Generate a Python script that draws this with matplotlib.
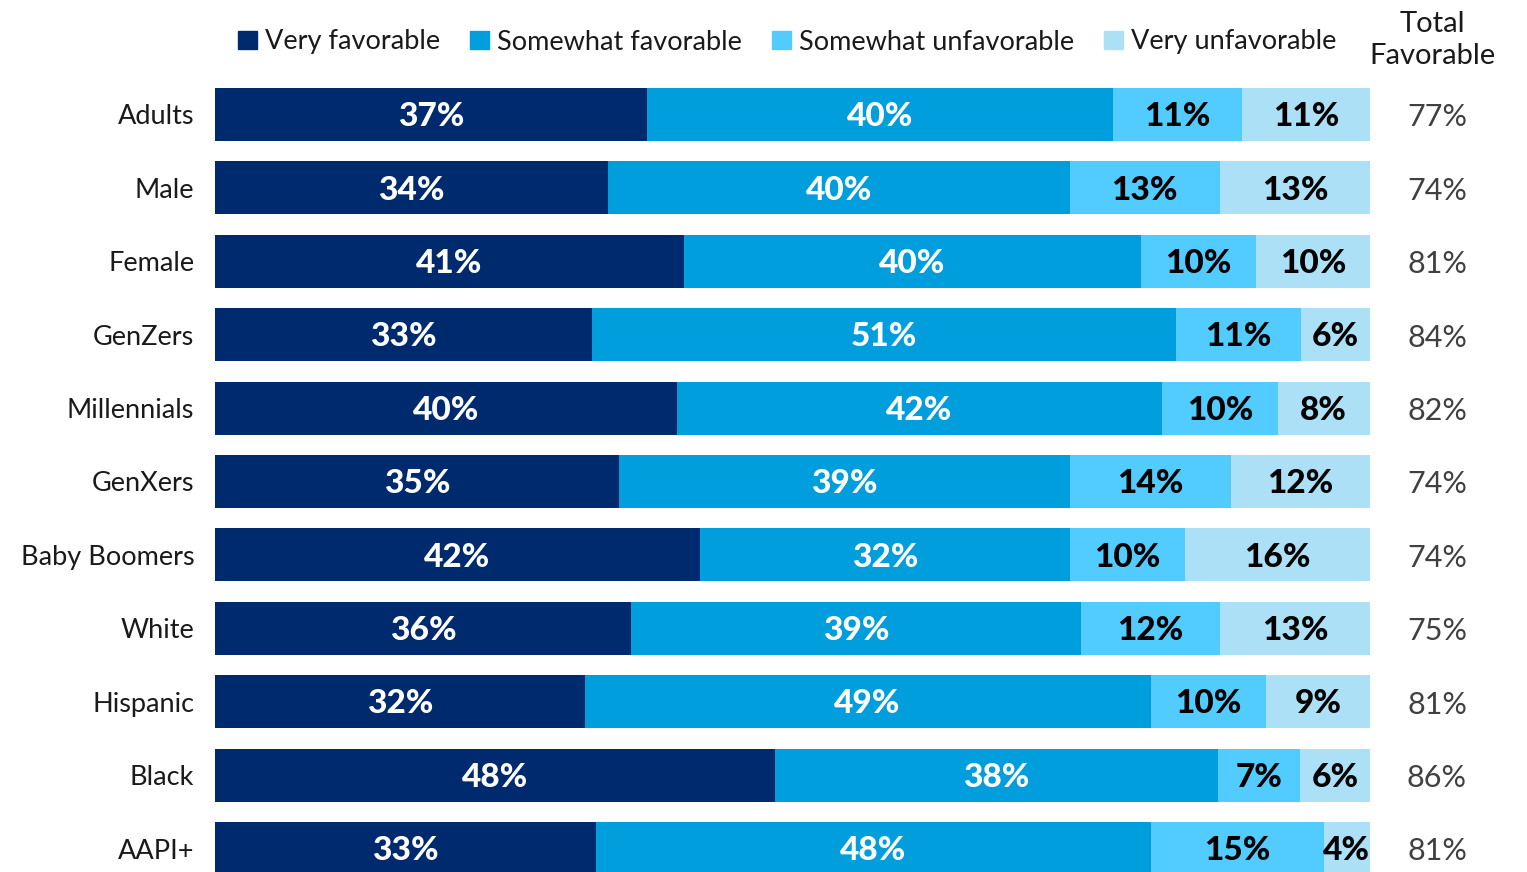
import numpy as np
import matplotlib.pyplot as plt
from matplotlib.patches import Patch

plt.rcParams['font.family'] = ['Lato', 'DejaVu Sans']

groups = ['Adults', 'Male', 'Female', 'GenZers', 'Millennials', 'GenXers',
          'Baby Boomers', 'White', 'Hispanic', 'Black', 'AAPI+']

very_fav = [37, 34, 41, 33, 40, 35, 42, 36, 32, 48, 33]
somewhat_fav = [40, 40, 40, 51, 42, 39, 32, 39, 49, 38, 48]
somewhat_unfav = [11, 13, 10, 11, 10, 14, 10, 12, 10, 7, 15]
very_unfav = [11, 13, 10, 6, 8, 12, 16, 13, 9, 6, 4]
total_fav = [77, 74, 81, 84, 82, 74, 74, 75, 81, 86, 81]

series_names = ['Very favorable', 'Somewhat favorable',
                'Somewhat unfavorable', 'Very unfavorable']
colors = ['#002A6E', '#009EDD', '#52CBFF', '#ABE0F7']
text_colors = ['white', 'white', 'black', 'black']

W, H = 1527, 872
fig = plt.figure(figsize=(W / 100, H / 100), dpi=100)
ax = fig.add_axes([215 / W, 0, (1370 - 215) / W, (H - 78) / H])

values = np.array([very_fav, somewhat_fav, somewhat_unfav, very_unfav], dtype=float)
shares = values / values.sum(axis=0) * 100  # each bar spans the full width
y = np.arange(len(groups))

left = np.zeros(len(groups))
for k in range(4):
    ax.barh(y, shares[k], left=left, height=0.72, color=colors[k],
            edgecolor='none')
    for i in range(len(groups)):
        ax.text(left[i] + shares[k][i] / 2, y[i] + 0.03, f'{int(values[k][i])}%',
                ha='center', va='center', fontsize=24, fontweight='black',
                color=text_colors[k])
    left += shares[k]

# total favorable column on the right
for i, v in enumerate(total_fav):
    ax.text(1.0 + 67 / 1155, y[i] + 0.04, f'{v}%', transform=ax.get_yaxis_transform(),
            ha='center', va='center', fontsize=22, color='#404040')
fig.text(1432 / W, 1 - 40 / H, 'Total\nFavorable', ha='center', va='center',
         fontsize=21, color='#1a1a1a', linespacing=1.3)

ax.set_xlim(0, 100)
ax.set_ylim(10.32, -0.497)
ax.set_yticks(y)
ax.set_yticklabels(groups, fontsize=19.5, color='#1a1a1a')
ax.tick_params(axis='y', length=0, pad=15)
ax.set_xticks([])
for s in ax.spines.values():
    s.set_visible(False)

handles = [Patch(color=c) for c in colors]
fig.legend(handles, series_names, loc='center', ncol=4,
           bbox_to_anchor=(787 / W, 1 - 42 / H), frameon=False, fontsize=19.5,
           handlelength=0.7, handleheight=0.7, handletextpad=0.3,
           columnspacing=1.1, labelcolor='#1a1a1a')

fig.savefig('out.png', dpi=100)
